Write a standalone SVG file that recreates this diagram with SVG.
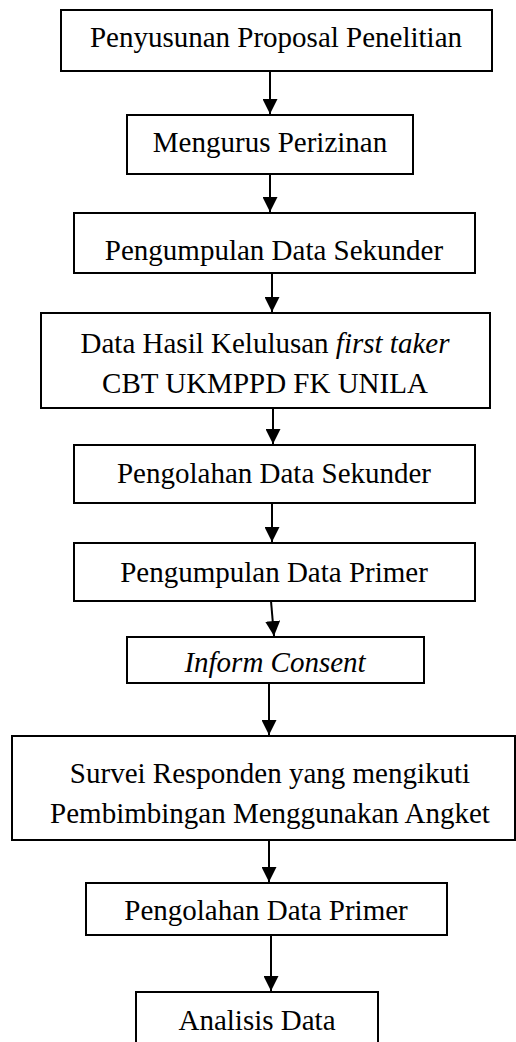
<svg xmlns="http://www.w3.org/2000/svg" width="516" height="1042" viewBox="0 0 516 1042">
<style>
.box{fill:#fff;stroke:#000;stroke-width:2}
.t{font-family:'Liberation Serif','Times New Roman','DejaVu Serif',serif;font-size:29px;fill:#000;text-anchor:middle}
.i{font-style:italic}
.c{stroke:#000;stroke-width:2;fill:none;marker-end:url(#ah)}
</style>
<defs>
<marker id="ah" markerUnits="userSpaceOnUse" markerWidth="15" markerHeight="15" refX="15" refY="7.5" orient="auto">
<path d="M0,0 L15,7.5 L0,15 z" fill="#000"/>
</marker>
</defs>
<rect width="516" height="1042" fill="#fff"/>
<g id="connectors">
<line class="c" x1="270" y1="71" x2="270" y2="114"/>
<line class="c" x1="270" y1="174" x2="270" y2="212"/>
<line class="c" x1="272" y1="273" x2="272" y2="312"/>
<line class="c" x1="273" y1="408" x2="273" y2="444"/>
<line class="c" x1="272" y1="503" x2="272" y2="542"/>
<line class="c" x1="271" y1="601" x2="274" y2="636"/>
<line class="c" x1="269" y1="683" x2="269" y2="735"/>
<line class="c" x1="269" y1="840" x2="269" y2="882"/>
<line class="c" x1="271" y1="935" x2="271" y2="991"/>
</g>
<g id="n1"><rect class="box" x="61" y="10" width="431" height="61"/><text class="t" x="276" y="47" font-family="Liberation Serif, serif">Penyusunan Proposal Penelitian</text></g>
<g id="n2"><rect class="box" x="127" y="115" width="286" height="59"/><text class="t" x="270" y="152">Mengurus Perizinan</text></g>
<g id="n3"><rect class="box" x="74" y="213" width="401" height="60"/><text class="t" x="274" y="260">Pengumpulan Data Sekunder</text></g>
<g id="n4"><rect class="box" x="41" y="313" width="449" height="95"/><text class="t" x="265" y="353">Data Hasil Kelulusan <tspan class="i">first taker</tspan></text><text class="t" x="265" y="393">CBT UKMPPD FK UNILA</text></g>
<g id="n5"><rect class="box" x="74" y="445" width="401" height="58"/><text class="t" x="274" y="483">Pengolahan Data Sekunder</text></g>
<g id="n6"><rect class="box" x="74" y="543" width="401" height="58"/><text class="t" x="274" y="582">Pengumpulan Data Primer</text></g>
<g id="n7"><rect class="box" x="127" y="637" width="297" height="46"/><text class="t i" x="275" y="672">Inform Consent</text></g>
<g id="n8"><rect class="box" x="12" y="736" width="503" height="104"/><text class="t" x="270" y="783">Survei Responden yang mengikuti</text><text class="t" x="270" y="823">Pembimbingan Menggunakan Angket</text></g>
<g id="n9"><rect class="box" x="86" y="883" width="361" height="52"/><text class="t" x="266" y="920">Pengolahan Data Primer</text></g>
<g id="n10"><rect class="box" x="136" y="992" width="242" height="70"/><text class="t" x="257" y="1030">Analisis Data</text></g>
</svg>
